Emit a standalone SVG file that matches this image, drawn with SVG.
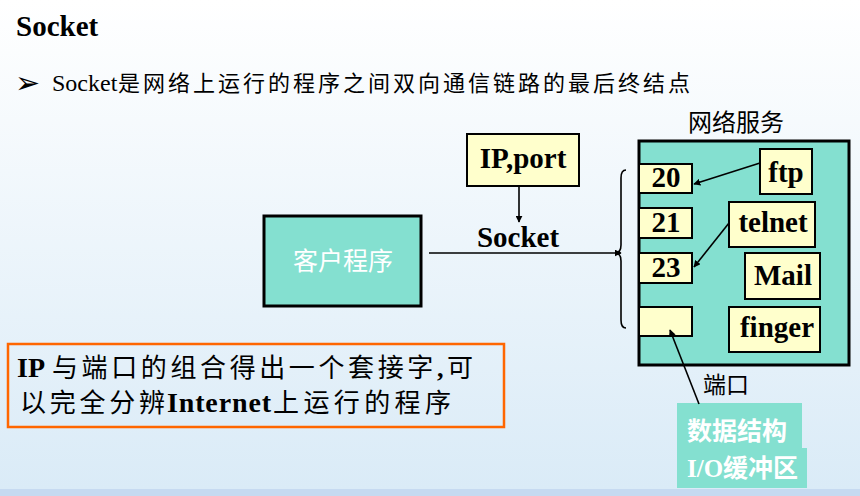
<svg xmlns="http://www.w3.org/2000/svg" width="860" height="496" viewBox="0 0 860 496">
<style>
.lat{font-family:"Liberation Serif","Noto Sans CJK SC",serif;}
.cjk{font-family:"Liberation Serif","Noto Sans CJK SC",serif;}
.b{font-weight:bold;}
.teal{fill:#84E0D0;}
.yel{fill:#FFFFCC;stroke:#000;stroke-width:2;}
.lbl{font-family:"Liberation Serif",serif;font-weight:bold;font-size:29px;fill:#000;}
.wire{stroke:#000;stroke-width:1.6;fill:none;}
</style>
<defs>
<linearGradient id="bg" x1="0" y1="0" x2="0" y2="1">
<stop offset="0" stop-color="#FFFFFF"/>
<stop offset="1" stop-color="#DAEBF7"/>
</linearGradient>
<marker id="ah" viewBox="0 0 10 10" refX="9" refY="5" markerWidth="7" markerHeight="7" markerUnits="userSpaceOnUse" orient="auto">
<path d="M0,0 L10,5 L0,10 Z" fill="#000"/>
</marker>
</defs>
<rect x="0" y="0" width="860" height="489" fill="url(#bg)"/>
<rect x="0" y="489" width="860" height="7" fill="#C6DAF1"/>

<g id="title">
<text x="16" y="36" class="lat b" font-size="29" fill="#000">Socket</text>
</g>
<g id="bullet">
<text x="15" y="93" font-family="DejaVu Sans,sans-serif" font-size="30" font-weight="bold" fill="#000">➢</text>
<text x="52" y="91" class="lat" font-size="24" fill="#000">Socket</text>
<text x="118" y="91" class="cjk" font-size="22" fill="#000" textLength="572" lengthAdjust="spacing">是网络上运行的程序之间双向通信链路的最后终结点</text>
</g>

<g id="note">
<rect x="8" y="344" width="496" height="83" fill="none" stroke="#FF6600" stroke-width="2.5"/>
<text x="17" y="377" class="lat b" font-size="28" fill="#000">IP</text>
<text x="52" y="377" class="cjk" font-size="26" fill="#000" textLength="421" lengthAdjust="spacing">与端口的组合得出一个套接字<tspan font-weight="bold">,</tspan>可</text>
<text x="20" y="412" class="cjk" font-size="26" fill="#000" textLength="145" lengthAdjust="spacing">以完全分辨</text>
<text x="167" y="412" class="lat b" font-size="28" fill="#000" textLength="104" lengthAdjust="spacing">Internet</text>
<text x="273" y="412" class="cjk" font-size="26" fill="#000" textLength="178" lengthAdjust="spacing">上运行的程序</text>
</g>

<g id="client">
<rect x="264" y="216" width="157" height="90" class="teal" stroke="#000" stroke-width="3"/>
<text x="343" y="270" class="cjk" font-size="25" fill="#FFFFFF" text-anchor="middle">客户程序</text>
</g>

<g id="ipport">
<rect x="467" y="134" width="112" height="52" class="yel"/>
<text x="523" y="168" class="lbl" text-anchor="middle">IP,port</text>
</g>

<g id="socket-label">
<text x="518" y="247" class="lbl" text-anchor="middle">Socket</text>
</g>

<g id="services">
<text x="736" y="131" class="cjk" font-size="24" fill="#000" text-anchor="middle">网络服务</text>
<rect x="639" y="141" width="210" height="224" class="teal" stroke="#000" stroke-width="3"/>
</g>
<g id="port20"><rect x="639" y="164" width="53" height="29" class="yel"/><text x="666" y="187" class="lbl" text-anchor="middle">20</text></g>
<g id="port21"><rect x="639" y="208" width="53" height="30" class="yel"/><text x="666" y="232" class="lbl" text-anchor="middle">21</text></g>
<g id="port23"><rect x="639" y="253" width="53" height="30" class="yel"/><text x="666" y="277" class="lbl" text-anchor="middle">23</text></g>
<g id="port-empty"><rect x="639" y="307" width="53" height="29" class="yel"/></g>
<g id="ftp"><rect x="760" y="149" width="52" height="45" class="yel"/><text x="786" y="182" class="lbl" text-anchor="middle">ftp</text></g>
<g id="telnet"><rect x="729" y="202" width="86" height="45" class="yel"/><text x="773" y="232" class="lbl" text-anchor="middle">telnet</text></g>
<g id="mail"><rect x="745" y="253" width="75" height="46" class="yel"/><text x="783" y="285" class="lbl" text-anchor="middle">Mail</text></g>
<g id="finger"><rect x="729" y="307" width="91" height="45" class="yel"/><text x="777" y="337" class="lbl" text-anchor="middle">finger</text></g>

<g id="port-label">
<text x="703" y="393" class="cjk" font-size="23" fill="#000">端口</text>
</g>

<g id="datastruct">
<rect x="677" y="403" width="125" height="46" class="teal"/>
<rect x="677" y="448" width="130" height="40" class="teal"/>
<text x="687" y="440" class="cjk b" font-size="25" fill="#FFFFFF">数据结构</text>
<text x="687" y="477" class="cjk b" font-size="25" fill="#FFFFFF">I/O缓冲区</text>
</g>

<g id="connectors">
<line x1="519" y1="186" x2="519" y2="222" class="wire" marker-end="url(#ah)"/>
<line x1="429" y1="253" x2="621" y2="253" class="wire" marker-end="url(#ah)"/>
<path d="M626 170 Q621 170 621 178 L621 245 Q621 253 615 253 Q621 253 621 261 L621 320 Q621 328 626 328" class="wire"/>
<line x1="760" y1="163" x2="694" y2="184" class="wire" marker-end="url(#ah)"/>
<line x1="729" y1="223" x2="694" y2="267" class="wire" marker-end="url(#ah)"/>
<line x1="699" y1="404" x2="670" y2="330" class="wire" marker-end="url(#ah)"/>
</g>
</svg>
